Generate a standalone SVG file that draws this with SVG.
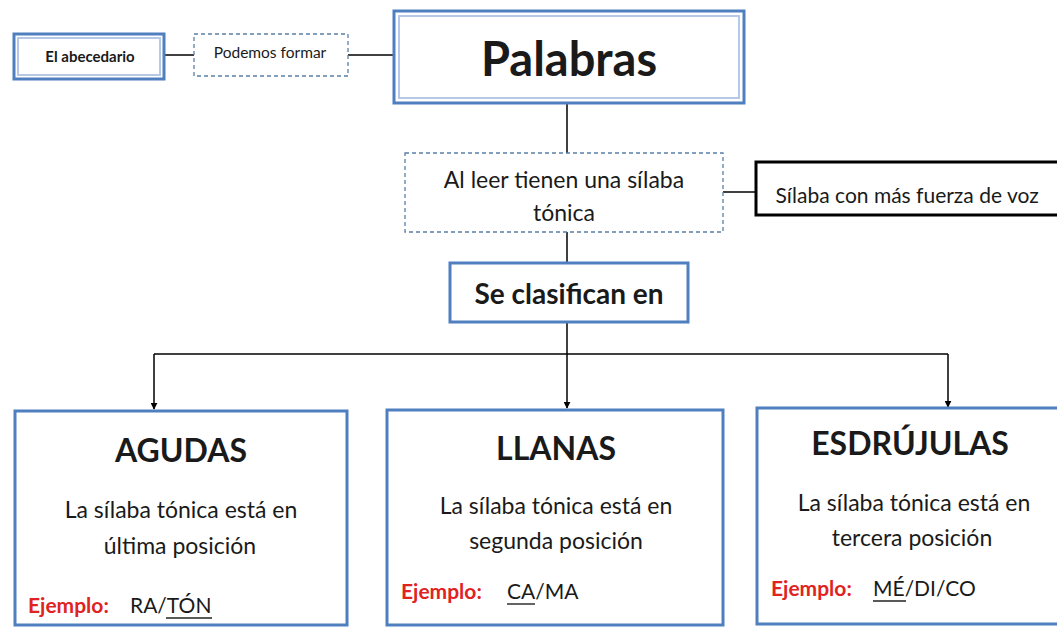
<svg xmlns="http://www.w3.org/2000/svg" width="1057" height="628" viewBox="0 0 1057 628">
<defs>
<marker id="arr" viewBox="0 0 10 10" refX="9" refY="5" markerWidth="7" markerHeight="7" orient="auto" markerUnits="userSpaceOnUse">
<path d="M0,0 L10,5 L0,10 z" fill="#000"/>
</marker>
<style>
text{font-family:Lato,"Open Sans","Liberation Sans",sans-serif;fill:#1a1a1a;text-anchor:middle}
.b{font-weight:bold}
.blue{fill:#fff;stroke:#4f7fbf;stroke-width:3}
.inner{fill:none;stroke:#b5c9e6;stroke-width:2}
.dash{fill:#fff;stroke:#5a7fa8;stroke-width:1.3;stroke-dasharray:4 3}
.ln{stroke:#000;stroke-width:1.5;fill:none}
.red{fill:#e0231f;font-weight:bold;text-anchor:start}
.st{text-anchor:start}
.ul{stroke:#222;stroke-width:1.4}
</style>
</defs>
<rect width="1057" height="628" fill="#fff"/>
<g id="connectors">
<line class="ln" x1="165" y1="55" x2="194" y2="55"/>
<line class="ln" x1="348" y1="55" x2="393" y2="55"/>
<line class="ln" x1="567" y1="104" x2="567" y2="153"/>
<line class="ln" x1="723" y1="192" x2="755" y2="192"/>
<line class="ln" x1="567" y1="232" x2="567" y2="263"/>
<line class="ln" x1="567" y1="322" x2="567" y2="354"/>
<line class="ln" x1="154" y1="354" x2="948" y2="354"/>
<line class="ln" x1="154" y1="354" x2="154" y2="409" marker-end="url(#arr)"/>
<line class="ln" x1="567" y1="354" x2="567" y2="408" marker-end="url(#arr)"/>
<line class="ln" x1="948" y1="354" x2="948" y2="407" marker-end="url(#arr)"/>
</g>
<g id="abecedario">
<rect class="blue" x="14" y="34" width="150" height="45" stroke-width="4"/>
<rect class="inner" x="18" y="38" width="142" height="37"/>
<text class="b" x="90" y="62" font-size="15">El abecedario</text>
</g>
<g id="podemos">
<rect class="dash" x="194" y="34" width="154" height="42"/>
<text x="270" y="58" font-size="15.5">Podemos formar</text>
</g>
<g id="palabras">
<rect class="blue" x="394" y="11" width="350" height="92" stroke-width="4"/>
<rect class="inner" x="399" y="16" width="340" height="82"/>
<text class="b" x="569" y="76" font-size="47">Palabras</text>
</g>
<g id="tonica">
<rect class="dash" x="405" y="153" width="318" height="79"/>
<text x="564" y="188" font-size="23">Al leer tienen una sílaba</text>
<text x="564" y="221" font-size="23">tónica</text>
</g>
<g id="silaba">
<rect x="756" y="162" width="310" height="53" fill="#fff" stroke="#000" stroke-width="3"/>
<text x="907" y="203" font-size="21">Sílaba con más fuerza de voz</text>
</g>
<g id="clasifican">
<rect class="blue" x="450" y="263" width="238" height="59"/>
<text class="b" x="569" y="304" font-size="28">Se clasifican en</text>
</g>
<g id="agudas">
<rect class="blue" x="15" y="411" width="332" height="214"/>
<text class="b" x="181" y="462" font-size="32">AGUDAS</text>
<text x="181" y="518" font-size="23">La sílaba tónica está en</text>
<text x="180" y="554" font-size="23">última posición</text>
<text class="red" x="28" y="613" font-size="21">Ejemplo:</text>
<text class="st" x="130" y="613" font-size="21">RA/TÓN</text>
<line class="ul" x1="166" y1="618" x2="212" y2="618"/>
</g>
<g id="llanas">
<rect class="blue" x="387" y="410" width="336" height="215"/>
<text class="b" x="556" y="460" font-size="32">LLANAS</text>
<text x="556" y="514" font-size="23">La sílaba tónica está en</text>
<text x="556" y="549" font-size="23">segunda posición</text>
<text class="red" x="401" y="599" font-size="21">Ejemplo:</text>
<text class="st" x="507" y="599" font-size="21">CA/MA</text>
<line class="ul" x1="507" y1="604" x2="535" y2="604"/>
</g>
<g id="esdrujulas">
<rect class="blue" x="757" y="408" width="310" height="216"/>
<text class="b" x="910" y="455" font-size="32">ESDRÚJULAS</text>
<text x="914" y="511" font-size="23">La sílaba tónica está en</text>
<text x="912" y="546" font-size="23">tercera posición</text>
<text class="red" x="771" y="596" font-size="21">Ejemplo:</text>
<text class="st" x="873" y="596" font-size="21">MÉ/DI/CO</text>
<line class="ul" x1="873" y1="601" x2="906" y2="601"/>
</g>
</svg>
